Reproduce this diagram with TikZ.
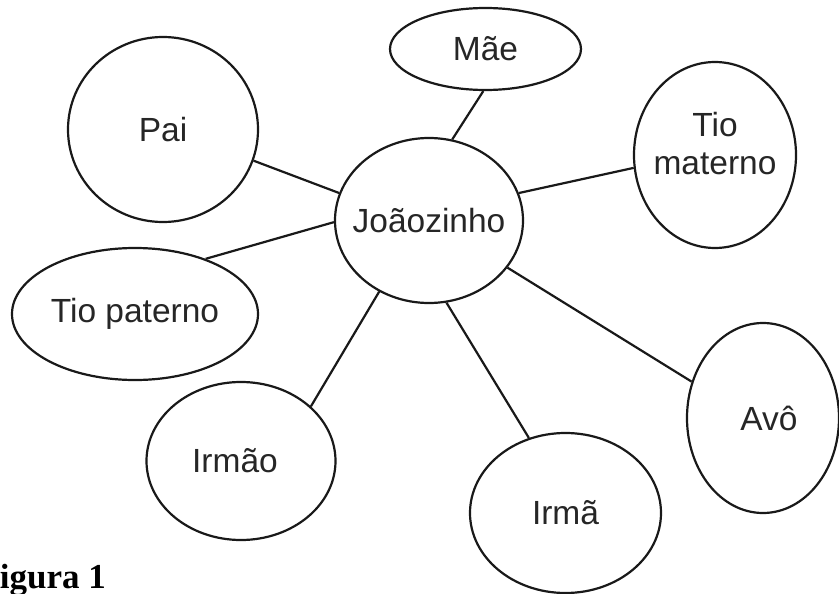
\documentclass[tikz,border=0pt]{standalone}
\usepackage{fontspec}
\setmainfont{Liberation Sans}
\newfontfamily\figfont{Liberation Serif}
\usetikzlibrary{shapes.geometric}
\tikzset{
  bub/.style={draw=black!90, ellipse, line width=2.2pt, inner sep=0pt},
  txt/.style={font=\fontsize{33.5}{38}\selectfont, text=black!85, inner sep=0pt},
  link/.style={draw=black!90, line width=2.2pt},
}
\begin{document}
\begin{tikzpicture}[x=1pt,y=-1pt]
\useasboundingbox (0,0) rectangle (839,594);
% nodes
\node[bub, minimum width=188pt, minimum height=165pt, label={[txt]center:Joãozinho}] (j) at (429,220.5) {};
\node[bub, minimum width=190pt, minimum height=185pt, label={[txt]center:Pai}] (pai) at (163,129.5) {};
\node[bub, minimum width=191pt, minimum height=82pt, label={[txt]center:Mãe}] (mae) at (485.5,49) {};
\node[bub, minimum width=162pt, minimum height=186pt, label={[txt, align=center, yshift=11pt]center:Tio\\materno}] (tm) at (715,155) {};
\node[bub, minimum width=246pt, minimum height=132pt, label={[txt]center:Tio paterno}] (tp) at (135,314) {};
\node[bub, minimum width=189pt, minimum height=158pt, label={[txt, xshift=-6pt]center:Irmão}] (irmao) at (241,461) {};
\node[bub, minimum width=191pt, minimum height=160pt, label={[txt]center:Irmã}] (irma) at (565.5,513) {};
\node[bub, minimum width=152pt, minimum height=190pt, label={[txt, xshift=6pt]center:Avô}] (avo) at (763,418) {};
% connectors
\draw[link] (pai.-19.6) -- (j.163.3);
\draw[link] (tp.38.7) -- (j.181.2);
\draw[link] (mae.-93) -- (j.74.6);
\draw[link] (tm.189.7) -- (j.17.5);
\draw[link] (j.-31.3) -- (avo.153.1);
\draw[link] (j.-78) -- (irma.116.3);
\draw[link] (j.235.6) -- (irmao.38.3);
% caption (cut at the left edge, as in the reference)
\node[anchor=base east, inner sep=0pt, font=\figfont\bfseries\fontsize{35}{40}\selectfont] (fig) at (106,588) {Figura 1};
\end{tikzpicture}
\end{document}
